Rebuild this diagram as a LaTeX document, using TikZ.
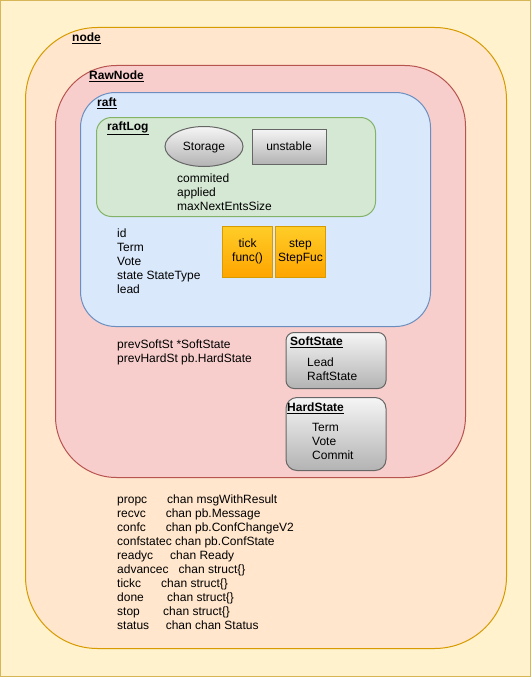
\documentclass[tikz,border=0pt]{standalone}
\usepackage{fontspec}
\setmainfont{Liberation Sans}
\usetikzlibrary{shapes.geometric}

\definecolor{pageFill}{HTML}{FFF2CC}
\definecolor{pageLine}{HTML}{D6B656}
\definecolor{nodeFill}{HTML}{FFE6CC}
\definecolor{nodeLine}{HTML}{D79B00}
\definecolor{rawFill}{HTML}{F8CECC}
\definecolor{rawLine}{HTML}{B85450}
\definecolor{raftFill}{HTML}{DAE8FC}
\definecolor{raftLine}{HTML}{6C8EBF}
\definecolor{logFill}{HTML}{D5E8D4}
\definecolor{logLine}{HTML}{82B366}
\definecolor{grayTop}{HTML}{F5F5F5}
\definecolor{grayBot}{HTML}{B3B3B3}
\definecolor{grayLine}{HTML}{666666}
\definecolor{funcTop}{HTML}{FFCD28}
\definecolor{funcBot}{HTML}{FFA500}

\begin{document}
\begin{tikzpicture}[x=1pt, y=-1pt,
    every node/.style={font=\fontsize{12}{14}\selectfont},
    frame/.style={draw, line width=1pt, anchor=north west, inner sep=0pt},
    title/.style={anchor=west, inner sep=0pt, font=\fontsize{12}{14}\selectfont\bfseries},
    fields/.style={anchor=north west, align=left, inner sep=0pt},
    grayshade/.style={draw=grayLine, line width=1pt, top color=grayTop, bottom color=grayBot},
    funcbox/.style={draw=nodeLine, line width=1pt, top color=funcTop, bottom color=funcBot,
        minimum width=50pt, minimum height=51pt, align=center, inner sep=0pt}
]

    % Page
    \useasboundingbox (0,0) rectangle (531,677);
    \fill[pageFill] (0,0) rectangle (531,677);
    \draw[pageLine, line width=1pt] (0.5,0.5) rectangle (530.5,676.5);

    % Containers
    \node[frame, draw=nodeLine, fill=nodeFill, minimum width=481pt, minimum height=621pt, rounded corners=72pt] (node) at (25,27) {};
    \node[frame, draw=rawLine, fill=rawFill, minimum width=410pt, minimum height=412pt, rounded corners=61pt] (rawnode) at (55,65) {};
    \node[frame, draw=raftLine, fill=raftFill, minimum width=350pt, minimum height=234pt, rounded corners=35pt] (raft) at (80,92) {};
    \node[frame, draw=logLine, fill=logFill, minimum width=279pt, minimum height=99pt, rounded corners=15pt] (raftlog) at (96,117) {};

    % Titles
    \node[title] (nodetitle) at (72,38) {\underline{node}};
    \node[title] (rawtitle) at (89,76) {\underline{RawNode}};
    \node[title] (rafttitle) at (97,103) {\underline{raft}};
    \node[title] (logtitle) at (107,128) {\underline{raftLog}};

    % raftLog content
    \node[ellipse, grayshade, minimum width=78pt, minimum height=40pt, inner sep=0pt, text depth=0pt] (storage) at (204,146.5) {Storage};
    \node[rectangle, grayshade, minimum width=74pt, minimum height=35pt, inner sep=0pt, text depth=0pt] (unstable) at (289,146.5) {unstable};
    \node[fields] (logfields) at (177,173.5) {commited\\applied\\maxNextEntsSize};

    % raft content
    \node[fields] (raftfields) at (117,228.5) {id\\Term\\Vote\\state StateType\\lead};
    \node[funcbox] (tick) at (247.5,251.5) {tick\\func()};
    \node[funcbox] (step) at (300.5,251.5) {step\\StepFuc};

    % RawNode content
    \node[fields] (prevfields) at (117,339.5) {prevSoftSt *SoftState\\prevHardSt pb.HardState};
    \node[frame, grayshade, minimum width=100pt, minimum height=56pt, rounded corners=8pt] (soft) at (285.5,332) {};
    \node[title] (softtitle) at (290,342) {\underline{SoftState}};
    \node[fields] (softfields) at (307,357.5) {Lead\\RaftState};
    \node[frame, grayshade, minimum width=100pt, minimum height=73pt, rounded corners=11pt] (hard) at (285.5,397) {};
    \node[title] (hardtitle) at (287,408) {\underline{HardState}};
    \node[fields] (hardfields) at (312,423.5) {Term\\Vote\\Commit};

    % node channels
    \node[fields] (chans) at (117,494.5) {\makebox[50pt][l]{propc}chan msgWithResult\\
        \makebox[48.6pt][l]{recvc}chan pb.Message\\
        \makebox[48.6pt][l]{confc}chan pb.ConfChangeV2\\
        confstatec chan pb.ConfState\\
        \makebox[53pt][l]{readyc}chan Ready\\
        \makebox[61.5pt][l]{advancec}chan struct\{\}\\
        \makebox[44pt][l]{tickc}chan struct\{\}\\
        \makebox[50pt][l]{done}chan struct\{\}\\
        \makebox[46pt][l]{stop}chan struct\{\}\\
        \makebox[48.6pt][l]{status}chan chan Status};

\end{tikzpicture}
\end{document}
